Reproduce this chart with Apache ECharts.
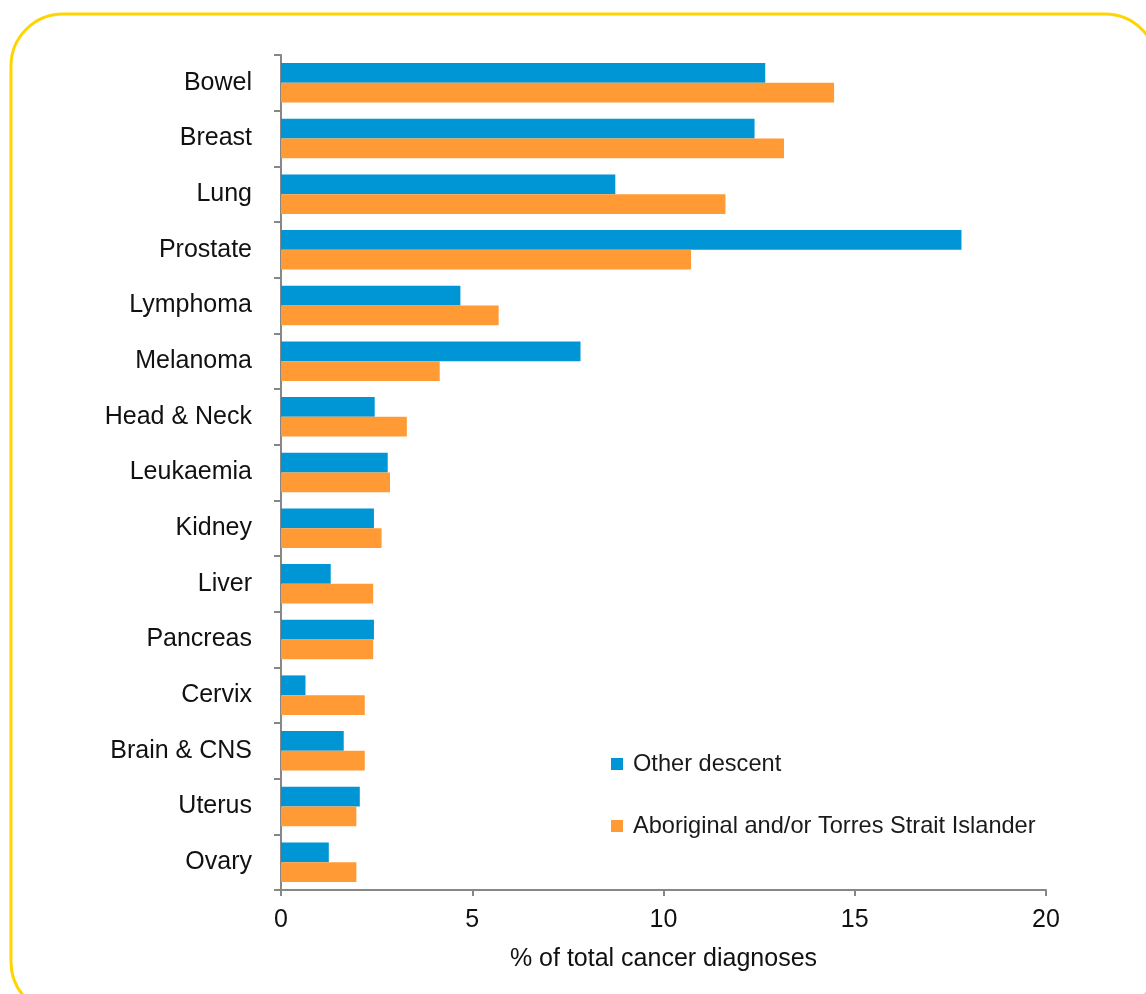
<!DOCTYPE html>
<html>
<head>
<meta charset="utf-8">
<script src="https://cdn.jsdelivr.net/npm/echarts@6/dist/echarts.min.js"></script>
<style>
html,body{margin:0;padding:0;background:#fff;}
#chart{width:1146px;height:994px;}
</style>
</head>
<body>
<div id="chart"></div>
<script>
const categories = ['Bowel','Breast','Lung','Prostate','Lymphoma','Melanoma','Head & Neck','Leukaemia','Kidney','Liver','Pancreas','Cervix','Brain & CNS','Uterus','Ovary'];
const otherDescent = [12.66,12.38,8.74,17.79,4.69,7.83,2.45,2.79,2.43,1.30,2.43,0.64,1.64,2.06,1.25];
const aboriginal = [14.46,13.15,11.62,10.72,5.69,4.15,3.29,2.85,2.63,2.41,2.41,2.19,2.19,1.97,1.97];
const seriesNames = ['Other descent','Aboriginal and/or Torres Strait Islander'];
const xTicks = [0,5,10,15,20];

const chart = echarts.init(document.getElementById('chart'), null, {renderer:'canvas'});
const font = 'Liberation Sans, Arial, Helvetica, sans-serif';
const axisGray = '#878787';
chart.setOption({
  animation:false,
  backgroundColor:'#ffffff',
  textStyle:{fontFamily:font},
  graphic:[{
    type:'rect', silent:true,
    shape:{x:11,y:14,width:1146,height:1000,r:52},
    style:{fill:'none',stroke:'#FFD400',lineWidth:3}
  }],
  grid:{left:281,right:100,top:55,bottom:104,containLabel:false},
  legend:{
    orient:'vertical', left:606, top:747,
    icon:'rect', itemWidth:12, itemHeight:12, itemGap:38,
    textStyle:{fontSize:23.6,color:'#1a1a1a',fontFamily:font,padding:[0,0,0,5]},
    data:seriesNames
  },
  xAxis:{
    type:'value', min:xTicks[0], max:xTicks[xTicks.length-1], interval:5,
    name:'% of total cancer diagnoses', nameLocation:'middle', nameGap:57,
    nameTextStyle:{fontSize:25,color:'#111',fontFamily:font},
    axisLine:{show:true,lineStyle:{color:axisGray,width:2}},
    axisTick:{show:true,length:6,lineStyle:{color:axisGray,width:2}},
    axisLabel:{fontSize:25,color:'#111',margin:18,fontFamily:font},
    splitLine:{show:false}
  },
  yAxis:{
    type:'category', data:categories, inverse:true,
    axisLine:{show:true,lineStyle:{color:axisGray,width:2}},
    axisTick:{show:true,length:7,lineStyle:{color:axisGray,width:2}},
    axisLabel:{fontSize:25,color:'#111',margin:29,fontFamily:font}
  },
  series:[
    {name:seriesNames[0],type:'bar',data:otherDescent,barGap:'0%',barCategoryGap:'29%',
     itemStyle:{color:'#0096D6'}},
    {name:seriesNames[1],type:'bar',data:aboriginal,barGap:'0%',barCategoryGap:'29%',
     itemStyle:{color:'#FF9A35'}}
  ]
});
</script>
</body>
</html>
